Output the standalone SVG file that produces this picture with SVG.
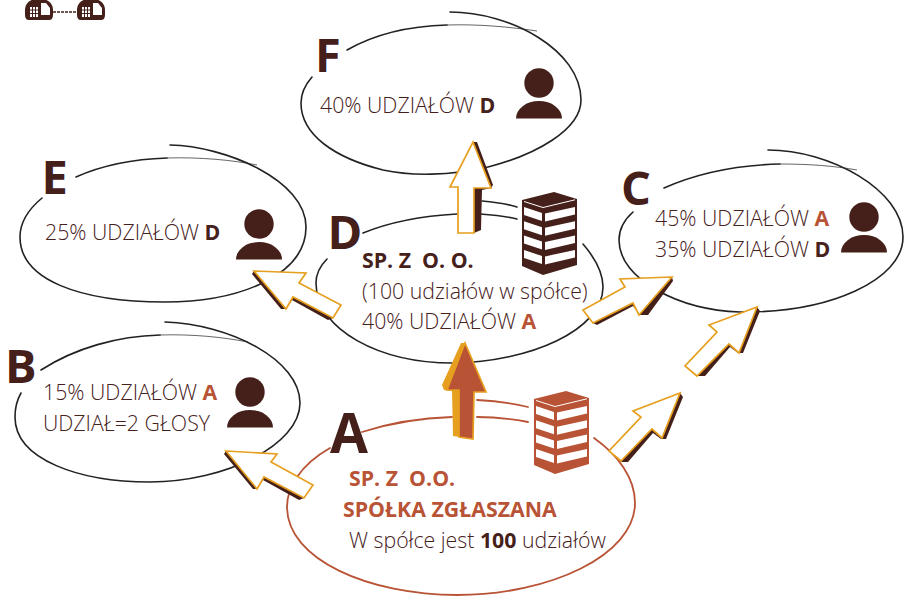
<svg xmlns="http://www.w3.org/2000/svg" width="905" height="596" viewBox="0 0 905 596">
<style>
text{font-family:"Open Sans","Liberation Sans",sans-serif;font-size:21.3px;font-weight:300;fill:#46201a;white-space:pre}
.b{font-weight:700}
.r{fill:#b95335}
.big{font-size:47px;font-weight:700;fill:#45201a}
.k{fill:none;stroke:#222;stroke-width:1.6;stroke-linecap:round}
.t{fill:none;stroke:#222;stroke-width:.7}
.kr{fill:none;stroke:#b95335;stroke-width:1.8;stroke-linecap:round}
.a{fill:#fff;stroke:#e69f1e;stroke-width:1.7;stroke-linejoin:miter}
.d{fill:#45201a}
</style>
<defs>
<g id="person">
<circle cx="0" cy="0" r="14.7"/>
<path d="M-23 35.500A23 17.500 0 0 1 23 35.500Z"/>
</g>
<g id="bld">
<path d="M522 200L554 192L577 199V265L543 275L522 266Z"/>
<path d="M524 201.500L543 207.500L575 199.800" fill="none" stroke="#fff" stroke-width="1"/>
<g fill="#fff">
<path id="win" d="M524 207L542 213V221L524 215ZM545 213.500L575 207V214.500L545 221.500Z"/>
<use href="#win" y="14.300"/><use href="#win" y="28.600"/><use href="#win" y="42.900"/>
</g>
</g>
<g id="tile">
<path d="M1 20Q-3 20-3 15V10C-3 3 3-1 8-1H14C19-1 25 3 25 10V15Q25 20 21 20Z" fill="#45201a"/>
<path d="M2 7H10V17H2Z" fill="#fff"/>
<path d="M4.500 7V17M7.500 7V17M2 10H10M2 13.500H10" stroke="#45201a" stroke-width="1"/>
<path d="M13 3H18L22 8V15H13Z" fill="#fff"/>
</g>
</defs>

<g id="icon">
<use href="#tile" x="28"/>
<use href="#tile" x="80"/>
<path d="M53 12H77" stroke="#45201a" stroke-width="1.500" stroke-dasharray="3 1"/>
</g>

<g id="node-f">
<path class="k" d="M347 50C375 34 410 26 447 25"/><path class="t" d="M447 25C480 24 510 27 537 31"/>
<path class="k" d="M450 12C510 12 581 50 581 100C581 130 535 155 488 167C450 176 410 176 383 170C335 158 301 135 301 103C301 94 305 85 312 77"/>
<use href="#person" x="539" y="83" fill="#45201a"/>
<text x="320" y="113">40% UDZIAŁÓW <tspan class="b">D</tspan></text>
<text class="big" x="315" y="72">F</text>
</g>

<g id="node-e">
<path class="k" d="M76 177C105 164 135 159 167 158"/><path class="t" d="M167 158C200 157 232 160 257 165"/>
<path class="k" d="M170 145C225 146 306 180 306 227C306 275 240 302 165 302C80 302 20 280 20 237C20 222 30 208 42 198"/>
<use href="#person" x="259" y="224" fill="#45201a"/>
<text x="45" y="240">25% UDZIAŁÓW <tspan class="b">D</tspan></text>
<text class="big" x="41.500" y="194">E</text>
</g>

<g id="node-c">
<path class="k" d="M664 188C700 172 740 165 780 164"/><path class="t" d="M780 164C810 164 835 166 857 170"/>
<path class="k" d="M768 150C830 150 903 190 903 237C903 280 830 313 740 312C680 310 619 280 619 240C619 230 624 220 633 212"/>
<use href="#person" x="864" y="217" fill="#45201a"/>
<text x="655" y="226">45% UDZIAŁÓW <tspan class="b r">A</tspan></text>
<text x="655" y="257">35% UDZIAŁÓW <tspan class="b">D</tspan></text>
<text class="big" x="621" y="205">C</text>
</g>

<g id="node-b">
<path class="k" d="M41 370C75 348 118 336 160 335"/><path class="t" d="M160 335C192 334 222 337 248 342"/>
<path class="k" d="M165 322C230 324 300 360 300 403C300 445 225 482 150 482C80 482 15 460 15 417C15 408 17 400 21 393"/>
<use href="#person" x="250" y="392" fill="#45201a"/>
<text x="43" y="400">15% UDZIAŁÓW <tspan class="b r">A</tspan></text>
<text x="43" y="431">UDZIAŁ=2 GŁOSY</text>
<text class="big" x="5" y="383">B</text>
</g>

<g id="node-d">
<path class="k" d="M363 233C390 222 420 216 457 214M480 214C493 215 505 216 517 219"/>
<path class="k" d="M482 201C495 202 507 204 517 207M583 244C595 258 603 272 603 287C603 330 530 362 453 363C380 363 316 330 316 283C316 275 320 266 327 259"/>
<use href="#bld" fill="#45201a"/>
<text class="b" x="362" y="268">SP. Z  O. O.</text>
<text x="362" y="299">(100 udziałów w spółce)</text>
<text x="362" y="329">40% UDZIAŁÓW <tspan class="b r">A</tspan></text>
<text class="big" x="327.500" y="249">D</text>
</g>

<g id="node-a">
<path class="kr" d="M362 432C390 423 420 418 452 417M477 417C495 417 512 419 528 422"/>
<path class="kr" d="M477 400C495 401 512 403 528 407M594 438C618 455 635 478 635 503C635 555 550 595 457 595C370 595 287 560 287 507C287 497 290 487 297 477C305 465 316 456 330 448"/>
<use href="#bld" x="12" y="199" fill="#b95335"/>
<text class="b r" x="349" y="486">SP. Z  O.O.</text>
<text class="b r" x="343" y="517">SPÓŁKA ZGŁASZANA</text>
<text x="349" y="548">W spółce jest <tspan class="b">100</tspan> udziałów</text>
<text class="big" style="font-size:55px" x="330" y="453">A</text>
</g>

<g id="connectors">
<g id="a-to-d">
<polygon fill="#e69f1e" points="461,343 465,343 486,392 474,392 473,439 453,436 452,391 444,390 442,385"/>
<polygon fill="#b95335" stroke="#e69f1e" stroke-width="1.700" points="465,343 486,392 474,392 473,439 459,437 459,390 447,390"/>
</g>
<g id="d-to-f">
<polygon class="d" points="473,142 477,142 493,185 491,188 482,190 481,230 474,233 474,188"/>
<polygon class="a" points="473,142 491,188 474,188 474,233 458,233 458,187 450,187"/>
</g>
<g id="d-to-e">
<polygon class="d" points="254,271 252,274 281,309 286,309 292,300 328,320 333,318 290,290"/>
<polygon class="a" points="254,271 306,273 299,283 341,305 333,318 293,297 286,309"/>
</g>
<g id="a-to-b">
<polygon class="d" points="226,451 224,454 253,489 257,489 263,480 299,500 304,498 260,470"/>
<polygon class="a" points="226,451 277,454 271,462 313,485 304,498 264,477 257,489"/>
</g>
<g id="d-to-c">
<polygon class="d" points="672,277 673,281 648,315 640,315 633,306 597,325 593,323 630,300"/>
<polygon class="a" points="672,277 620,279 625,287 583,310 593,323 633,303 639,315"/>
</g>
<g id="a-to-c-1">
<polygon class="d" points="680,393 683,397 666,439 661,439 653,433 628,462 620,462 648,426"/>
<polygon class="a" points="680,393 633,411 641,417 609,451 621,461 652,429 662,438"/>
</g>
<g id="a-to-c-2">
<polygon class="d" points="757,307 760,311 743,353 738,353 730,347 705,376 697,376 725,340"/>
<polygon class="a" points="757,307 709,325 717,332 685,366 697,376 729,344 739,353"/>
</g>
</g>
</svg>
